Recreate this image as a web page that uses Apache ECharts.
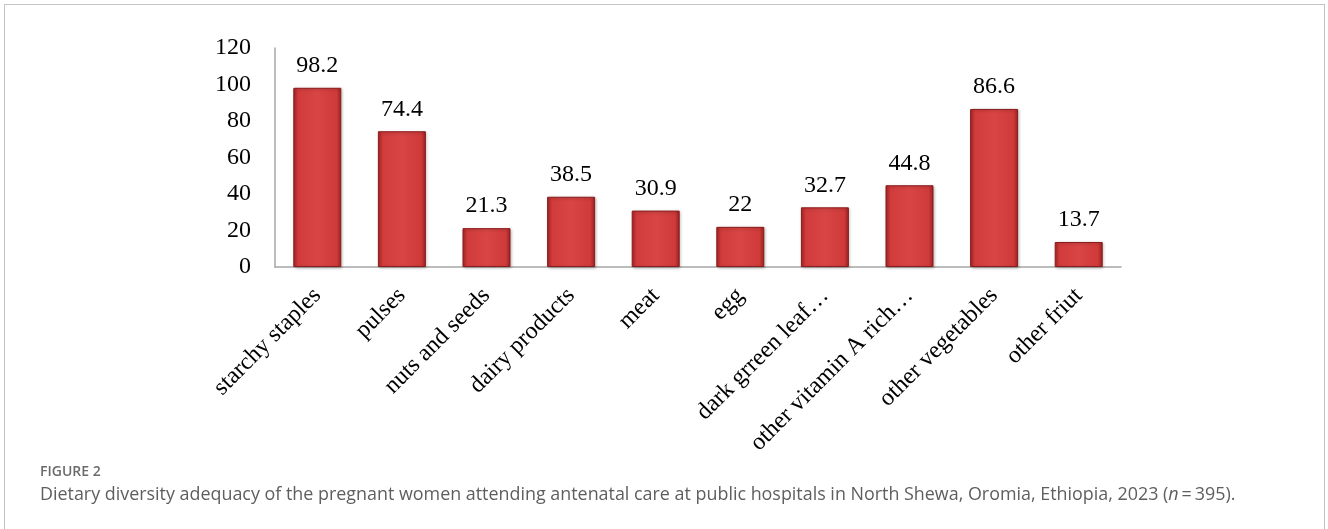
<!DOCTYPE html>
<html>
<head>
<meta charset="utf-8">
<script src="https://cdn.jsdelivr.net/npm/echarts@6/dist/echarts.min.js"></script>
<style>
html,body{margin:0;padding:0;background:#fff;}
#wrap{position:relative;width:1328px;height:529px;overflow:hidden;}
#frame{position:absolute;left:4px;top:4px;width:1321px;height:540px;border:1.5px solid #c4c4c4;box-sizing:border-box;}
#chart{position:absolute;left:0;top:0;width:1328px;height:529px;}
#cap1{position:absolute;left:40px;top:461px;font-family:"Open Sans",sans-serif;font-size:14px;font-weight:600;color:#6b6b6b;line-height:20px;}
#cap2{position:absolute;left:40px;top:481px;font-family:"Open Sans",sans-serif;font-size:17.9px;color:#5e5e5e;white-space:nowrap;line-height:24px;}
</style>
</head>
<body>
<div id="wrap">
<div id="frame"></div>
<div id="chart"></div>
<div id="cap1">FIGURE 2</div>
<div id="cap2">Dietary diversity adequacy of the pregnant women attending antenatal care at public hospitals in North Shewa, Oromia, Ethiopia, 2023 (<i>n</i>&#8201;=&#8201;395).</div>
</div>
<script>
const categories = ["starchy staples","pulses","nuts and seeds","dairy products","meat","egg","dark grreen leaf\u2026","other vitamin A rich\u2026","other vegetables","other friut"];
const values = [98.2,74.4,21.3,38.5,30.9,22,32.7,44.8,86.6,13.7];
const yTicks = {min:0,max:120,interval:20};

const chart = echarts.init(document.getElementById('chart'));
const serif = '"Liberation Serif","Times New Roman",serif';
chart.setOption({
  animation:false,
  grid:{left:275,right:207,top:48,bottom:262,containLabel:false},
  xAxis:{
    type:'category',data:categories,
    axisLine:{lineStyle:{color:'#a6a6a6',width:1.5}},
    axisTick:{show:false},
    axisLabel:{rotate:45,interval:0,margin:25,fontFamily:serif,fontSize:24,color:'#000'}
  },
  yAxis:{
    type:'value',min:yTicks.min,max:yTicks.max,interval:yTicks.interval,
    axisLine:{show:true,lineStyle:{color:'#a6a6a6',width:1.5}},
    axisTick:{show:false},
    splitLine:{show:false},
    axisLabel:{margin:24,fontFamily:serif,fontSize:24,color:'#000'}
  },
  series:[{
    type:'bar',data:values,barWidth:48,
    itemStyle:{
      color:new echarts.graphic.LinearGradient(0,0,1,0,[
        {offset:0,color:'#a82626'},
        {offset:0.1,color:'#d13b3b'},
        {offset:0.5,color:'#d84545'},
        {offset:0.9,color:'#cf3a3a'},
        {offset:1,color:'#9c2222'}
      ]),
      borderColor:'#8a1c1c',borderWidth:1,
      shadowColor:'rgba(0,0,0,0.25)',shadowBlur:3,shadowOffsetX:1,shadowOffsetY:1
    },
    label:{show:true,position:'top',distance:10,fontFamily:serif,fontSize:24,color:'#000'}
  }]
});
</script>
</body>
</html>
